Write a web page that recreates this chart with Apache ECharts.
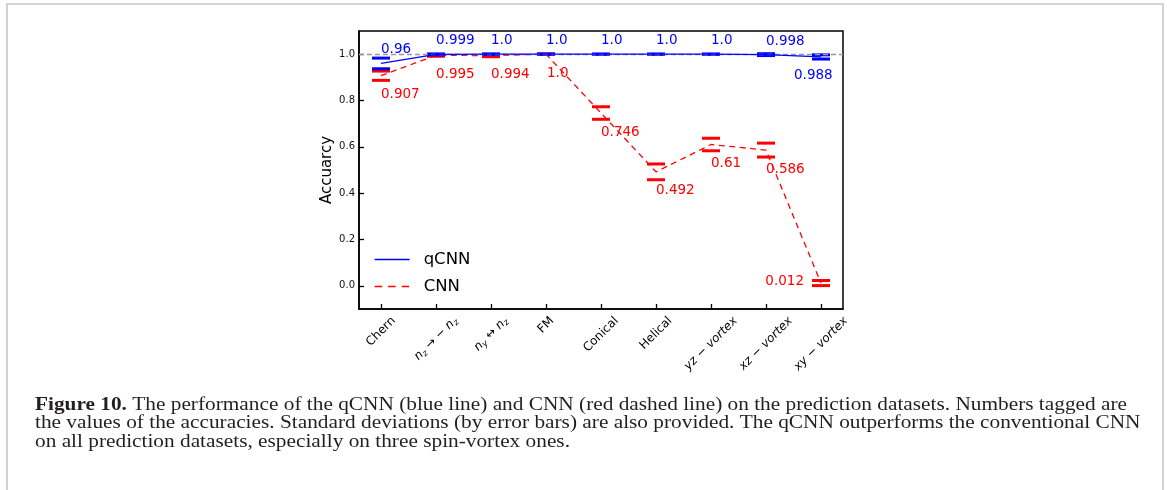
<!DOCTYPE html>
<html>
<head>
<meta charset="utf-8">
<script src="https://cdn.jsdelivr.net/npm/echarts@6/dist/echarts.min.js"></script>
<style>
  html, body { margin: 0; padding: 0; background: #fff; }
  #chart { width: 1167px; height: 490px; }
</style>
</head>
<body>
<div id="chart"></div>
<script>
// ---- data -------------------------------------------------------------
// Category names use a tiny TeX-like notation: $...$ = math (italic), _x = subscript
const categories = ['Chern', '$n_z\\to -n_z$', '$n_y\\leftrightarrow n_z$', 'FM', 'Conical',
                    'Helical', '$yz-vortex$', '$xz-vortex$', '$xy-vortex$'];
const qcnnAcc = [0.96, 0.999, 1.0, 1.0, 1.0, 1.0, 1.0, 0.998, 0.988];
const qcnnStd = [0.023, 0.002, 0.001, 0, 0, 0, 0, 0.004, 0.009];
const cnnAcc  = [0.907, 0.995, 0.994, 1.0, 0.746, 0.492, 0.61, 0.586, 0.012];
const cnnStd  = [0.02, 0.004, 0.005, 0, 0.027, 0.034, 0.027, 0.03, 0.011];
const yTicks  = [0, 0.2, 0.4, 0.6, 0.8, 1.0];
const xTicks  = categories.map((_, i) => i);

const captionTitle = 'Figure 10.';
const captionLines = [
  ' The performance of the qCNN (blue line) and CNN (red dashed line) on the prediction datasets. Numbers tagged are',
  'the values of the accuracies. Standard deviations (by error bars) are also provided. The qCNN outperforms the conventional CNN',
  'on all prediction datasets, especially on three spin-vortex ones.'
];

// ---- style ------------------------------------------------------------
const SANS = "'DejaVu Sans'";
const SERIF = "'Liberation Serif'";
const BLUE = '#0000ff';
const RED = '#ff0000';
const CAP_W = 18, CAP_H = 3;
const TICK_FS = 12, SUB_FS = 8.5, LINE_H = 14, LABEL_PAD = 5, SUB_DROP = 3;
const CAPTION_FS = 18, CAPTION_WIDTH = 1092;

// plot box; the x range runs 0.4 of a category beyond the first and last one
const PLOT = { left: 359, top: 31, width: 484, height: 278 };
const X_MIN = -0.4, X_MAX = categories.length - 1 + 0.4;
const bandPx = PLOT.width / (X_MAX - X_MIN);

const measureCtx = document.createElement('canvas').getContext('2d');
function textWidth(font, text) { measureCtx.font = font; return measureCtx.measureText(text).width; }

// split a category name into roman / italic / subscript runs
function parseLabel(src) {
  const toks = [];
  const push = (kind, text) => {
    const last = toks[toks.length - 1];
    if (last && last.kind === kind) last.text += text; else toks.push({ kind, text });
  };
  if (src[0] !== '$') { push('rm', src); return toks; }
  const s = src.slice(1, -1);
  const symbols = { to: '\u2192', leftrightarrow: '\u2194' };
  for (let i = 0; i < s.length; i++) {
    const ch = s[i];
    if (ch === '\\') {
      const m = /^\\([a-zA-Z]+)/.exec(s.slice(i));
      push('rm', ' ' + symbols[m[1]] + ' ');
      i += m[0].length - 1;
    } else if (ch === '_') { push('sub', s[i + 1]); i++; }
    else if (ch === '-') push('rm', ' \u2212 ');
    else if (ch === ' ') continue;
    else push('it', ch);
  }
  toks.forEach(t => { t.text = t.text.replace(/ {2,}/g, ' '); });
  return toks;
}

function tokFont(kind) {
  if (kind === 'it') return `italic ${TICK_FS}px ${SANS}`;
  if (kind === 'sub') return `italic ${SUB_FS}px ${SANS}`;
  return `${TICK_FS}px ${SANS}`;
}

// rotated tick labels are centred on their tick, below the axis
const xRich = {};
const xLabelText = categories.map((src, k) => {
  const toks = parseLabel(src);
  const w = toks.reduce((a, t) => a + textWidth(tokFont(t.kind), t.text), 0);
  const drop = LABEL_PAD + (w + TICK_FS * 1.17) * Math.SQRT1_2 / 2;
  const shift = drop * Math.SQRT2;
  const base = { fontFamily: SANS, color: '#000', lineHeight: LINE_H };
  xRich['it' + k] = Object.assign({}, base, { fontSize: TICK_FS, fontStyle: 'italic', padding: [shift, 0, 0, 0] });
  xRich['rm' + k] = Object.assign({}, base, { fontSize: TICK_FS, padding: [shift, 0, 0, 0] });
  xRich['sub' + k] = Object.assign({}, base, { fontSize: SUB_FS, fontStyle: 'italic', padding: [shift + 2 * SUB_DROP, 0, 0, 0] });
  xRich['gap' + k] = Object.assign({}, base, { fontSize: TICK_FS, width: shift });
  return toks.map(t => `{${t.kind}${k}|${t.text}}`).join('') + `{gap${k}| }`;
});

const fmtAcc = v => Number.isInteger(v) ? v.toFixed(1) : String(v);

// value-label placement for each model
const qLabelPlace = i => i === 8 ? { dx: -27, dy: 19, align: 'left' } : { dx: 0, dy: -13.5, align: 'left' };
const cLabelPlace = i => i === 8 ? { dx: -17, dy: -1.5, align: 'right' }
                      : { dx: i === 3 ? 1 : 0, dy: 19, align: 'left' };

// error-bar caps (mean +/- std) plus the value tag
function capsSeries(name, means, stds, color, place, z) {
  return {
    type: 'custom', name, z, silent: true, clip: false,
    data: means.map((m, i) => [i, m, stds[i]]),
    renderItem(params, api) {
      const i = api.value(0), m = api.value(1), s = api.value(2);
      const top = api.coord([i, m + s]), bot = api.coord([i, m - s]), mid = api.coord([i, m]);
      const cap = p => ({
        type: 'rect',
        shape: { x: p[0] - CAP_W / 2, y: p[1] - CAP_H / 2, width: CAP_W, height: CAP_H },
        style: { fill: color }
      });
      const lp = place(i);
      return {
        type: 'group',
        children: [cap(top), cap(bot), {
          type: 'text', x: mid[0] + lp.dx, y: mid[1] + lp.dy, z2: 20,
          style: { text: fmtAcc(m), fill: color, fontSize: 13.5, fontFamily: SANS,
                   align: lp.align, verticalAlign: 'middle' }
        }]
      };
    }
  };
}

// caption: stretched serif text, three lines
const captionScale = CAPTION_WIDTH /
  (textWidth(`bold ${CAPTION_FS}px ${SERIF}`, captionTitle) + textWidth(`${CAPTION_FS}px ${SERIF}`, captionLines[0]));
const captionRich = {
  b: { fontFamily: SERIF, fontSize: CAPTION_FS, fontWeight: 'bold', fill: '#231f20' },
  r: { fontFamily: SERIF, fontSize: CAPTION_FS, fill: '#231f20' }
};
const captionGraphics = captionLines.map((line, k) => ({
  type: 'text', x: 35, y: 405 + k * 18.5, scaleX: captionScale, silent: true,
  style: {
    text: (k === 0 ? `{b|${captionTitle}}` : '') + `{r|${line}}`,
    rich: captionRich, fontFamily: SERIF, fontSize: CAPTION_FS, fill: '#231f20',
    align: 'left', verticalAlign: 'middle'
  }
}));

const chart = echarts.init(document.getElementById('chart'), null, { renderer: 'canvas' });
chart.setOption({
  animation: false,
  backgroundColor: '#fff',
  grid: [
    // data grid with the framed plot box
    Object.assign({ show: true, borderColor: '#000', borderWidth: 1.5, backgroundColor: 'transparent' }, PLOT),
    // category band grid (labels only): one band per category, centred on the integer positions
    { show: false, top: PLOT.top, height: PLOT.height,
      left: PLOT.left - (X_MIN + 0.5) * bandPx,
      width: categories.length * bandPx }
  ],
  xAxis: [
    {
      type: 'value', gridIndex: 0, min: X_MIN, max: X_MAX,
      splitLine: { show: false },
      axisLine: { onZero: false, lineStyle: { color: '#000', width: 1.5 } },
      axisTick: { show: true, inside: true, length: 5, customValues: xTicks,
                  lineStyle: { color: '#000', width: 1.3 } },
      // ticks only here; the names are drawn by the category axis below
      axisLabel: { show: true, customValues: xTicks, formatter: () => '' }
    },
    {
      type: 'category', gridIndex: 1, data: categories, boundaryGap: true,
      axisLine: { show: false, onZero: false },
      axisTick: { show: false },
      axisLabel: {
        interval: 0, rotate: 45, margin: 0, align: 'center', verticalAlign: 'middle',
        formatter: (v, idx) => xLabelText[idx], rich: xRich
      }
    }
  ],
  yAxis: [
    {
      type: 'value', gridIndex: 0, min: -0.1, max: 1.1,
      name: 'Accuarcy', nameLocation: 'middle', nameGap: 24,
      nameTextStyle: { fontFamily: SANS, fontSize: 15, color: '#000' },
      splitLine: { show: false },
      axisLine: { onZero: false, lineStyle: { color: '#000', width: 1.5 } },
      axisTick: { inside: true, length: 5, customValues: yTicks, lineStyle: { color: '#000', width: 1.3 } },
      axisLabel: { customValues: yTicks, margin: 4, fontFamily: SANS, fontSize: 10, color: '#111',
                   formatter: v => v.toFixed(1) }
    },
    { type: 'value', gridIndex: 1, show: false }
  ],
  legend: {
    orient: 'vertical', left: 374, top: 251, padding: 0,
    itemWidth: 35, itemHeight: 14, itemGap: 10,
    selectedMode: false,
    itemStyle: { opacity: 0 },
    lineStyle: { width: 1.3 },
    data: [{ name: 'qCNN' }, { name: 'CNN', lineStyle: { width: 1.3, type: [7.5, 6] } }],
    formatter: n => `{t|${n}}`,
    textStyle: { rich: { t: { fontFamily: SANS, fontSize: 16.5, color: '#000', padding: [0, 0, 0, 9] } } }
  },
  graphic: [
    { type: 'polyline', silent: true, z: 100,
      shape: { points: [[7, 490], [7, 4], [1163, 4], [1163, 490]] },
      style: { stroke: '#c6c6c6', lineWidth: 1.6, fill: null } },
    ...captionGraphics
  ],
  series: [
    capsSeries('CNN error', cnnAcc, cnnStd, RED, cLabelPlace, 2),
    {
      type: 'line', name: 'CNN', z: 3, silent: true, symbol: 'none',
      data: cnnAcc.map((v, i) => [i, v]),
      lineStyle: { color: RED, width: 1.3, type: [6, 4.5] }, itemStyle: { color: RED },
      markLine: {
        silent: true, symbol: ['none', 'none'], label: { show: false },
        lineStyle: { color: '#9a9a9a', width: 1.3, type: [5, 3] },
        data: [{ yAxis: 1 }]
      }
    },
    capsSeries('qCNN error', qcnnAcc, qcnnStd, BLUE, qLabelPlace, 4),
    {
      type: 'line', name: 'qCNN', z: 5, silent: true, symbol: 'none',
      data: qcnnAcc.map((v, i) => [i, v]),
      lineStyle: { color: BLUE, width: 1.3 }, itemStyle: { color: BLUE }
    }
  ]
});
</script>
</body>
</html>
